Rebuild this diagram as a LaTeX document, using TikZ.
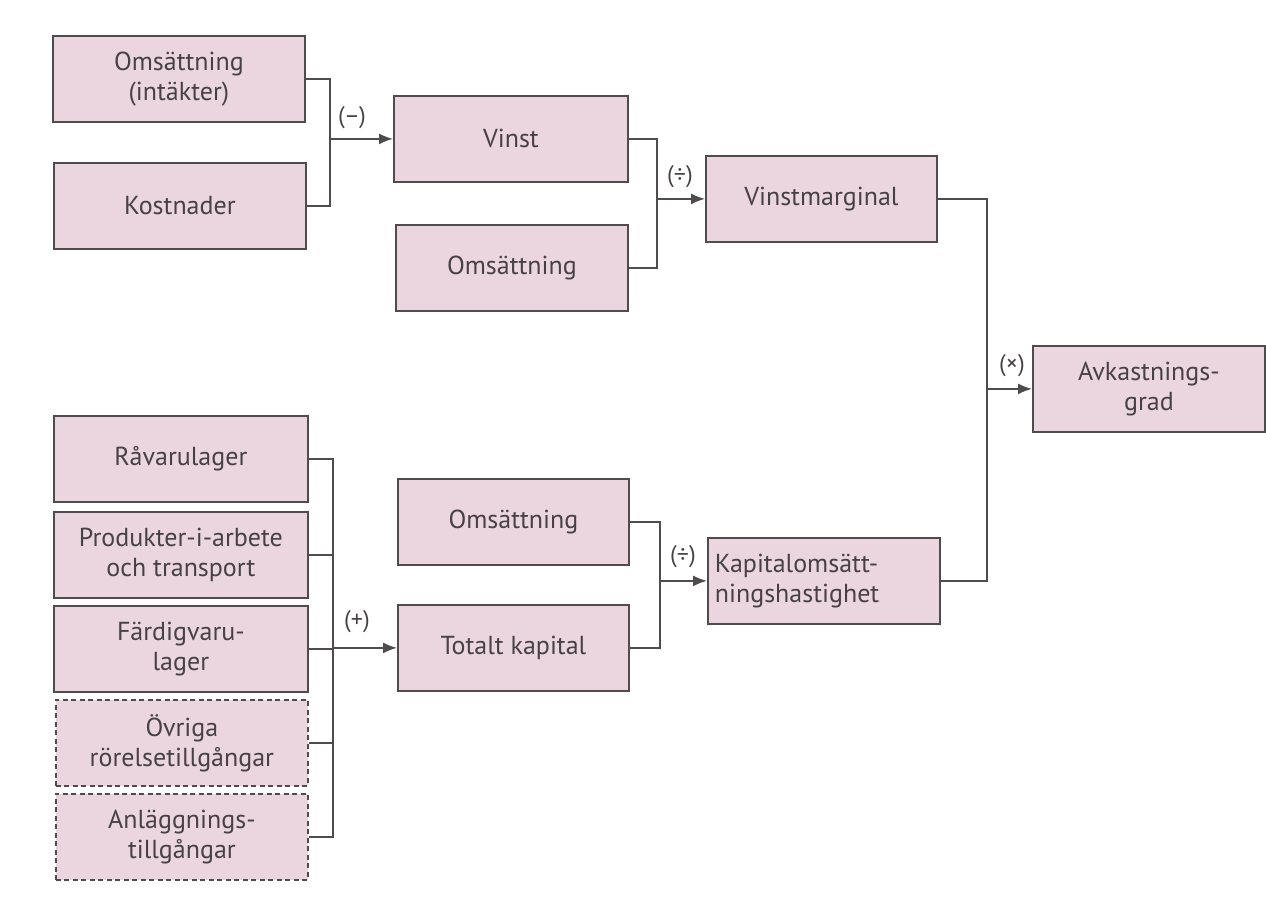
\documentclass[tikz,border=0pt]{standalone}
\usepackage{fontspec}
\setmainfont{PT Sans}
\usetikzlibrary{arrows.meta}
\definecolor{boxpink}{RGB}{235,214,223}
\definecolor{boxline}{RGB}{80,76,78}
\definecolor{txt}{RGB}{70,66,68}
\tikzset{
  box/.style={draw=boxline, fill=boxpink, line width=1.8pt, text=txt,
    minimum width=#1, minimum height=86pt, inner sep=0pt, align=center,
    anchor=north west, font=\fontsize{26}{30}\selectfont},
  box/.default=252pt,
  dbox/.style={box=#1, dash pattern=on 5pt off 3.5pt},
  dbox/.default=252pt,
  conn/.style={draw=boxline, line width=1.6pt},
  arr/.style={conn, -{Latex[length=14pt,width=11pt]}},
  op/.style={text=txt, font=\fontsize{24}{28}\selectfont, inner sep=0pt}
}
\begin{document}
\begin{tikzpicture}[x=1pt,y=-1pt]
\useasboundingbox (0,0) rectangle (1266,904);
% top branch
\node[box] (oms1) at (52,35) {Omsättning\\(intäkter)};
\node[box] (kost) at (53,162) {Kostnader};
\node[box=234pt] (vinst) at (393,95) {Vinst};
\node[box=232pt] (oms2) at (395,224) {Omsättning};
\node[box=231pt] (vm) at (705,155) {Vinstmarginal};
\node[box=232pt] (avk) at (1032,345) {Avkastnings-\\grad};
% bottom branch
\node[box=254pt] (rav) at (53,415) {Råvarulager};
\node[box=254pt] (prod) at (53,511) {Produkter-i-arbete\\och transport};
\node[box=254pt] (fard) at (53,605) {Färdigvaru-\\lager};
\node[dbox=252pt] (ovr) at (55,699) {Övriga\\rörelsetillgångar};
\node[dbox=252pt] (anl) at (55,793) {Anläggnings-\\tillgångar};
\node[box=231pt] (oms3) at (397,478) {Omsättning};
\node[box=231pt] (tot) at (397,604) {Totalt kapital};
\node[box=232pt, text width=218pt, align=left] (kap) at (707,537) {Kapitalomsätt-\\ningshastighet};
% junction lines
\coordinate (j1) at (330,0);
\coordinate (j2) at (657,0);
\coordinate (j3) at (987,0);
\coordinate (j4) at (333,0);
\coordinate (j5) at (660,0);
\draw[conn] (oms1.east) -- (oms1.east -| j1) -- (kost.east -| j1) -- (kost.east);
\draw[arr] (vinst.west -| j1) -- (vinst.west);
\draw[conn] (vinst.east) -- (vinst.east -| j2) -- (oms2.east -| j2) -- (oms2.east);
\draw[arr] (vm.west -| j2) -- (vm.west);
\draw[conn] (vm.east) -- (vm.east -| j3) -- (kap.east -| j3) -- (kap.east);
\draw[arr] (avk.west -| j3) -- (avk.west);
\draw[conn] (rav.east) -- (rav.east -| j4) -- (anl.east -| j4) -- (anl.east);
\draw[conn] (prod.east) -- (prod.east -| j4);
\draw[conn] (fard.east) -- (fard.east -| j4);
\draw[conn] (ovr.east) -- (ovr.east -| j4);
\draw[arr] (tot.west -| j4) -- (tot.west);
\draw[conn] (oms3.east) -- (oms3.east -| j5) -- (tot.east -| j5) -- (tot.east);
\draw[arr] (kap.west -| j5) -- (kap.west);
% operator labels
\node[op] (l1) at (352,118) {(–)};
\node[op] (l2) at (680,177) {(÷)};
\node[op] (l3) at (1012,366) {(×)};
\node[op] (l4) at (357,622) {(+)};
\node[op] (l5) at (683,557) {(÷)};
\end{tikzpicture}
\end{document}
